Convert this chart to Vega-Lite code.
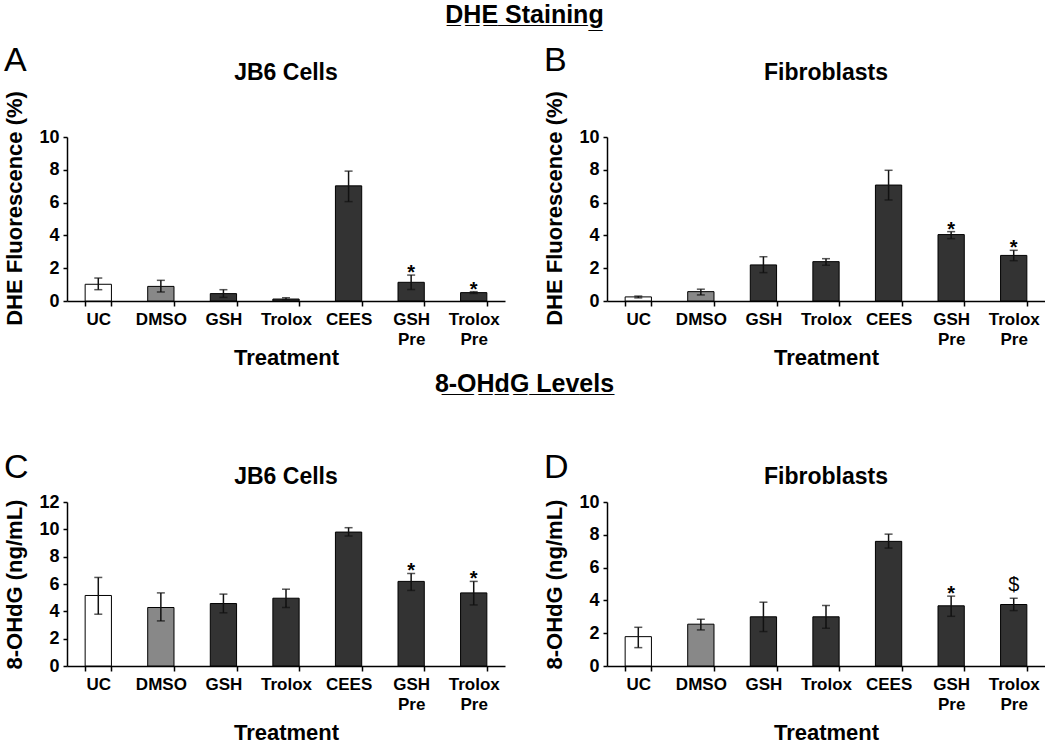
{
  "$schema": "https://vega.github.io/schema/vega-lite/v6.json",
  "background": "white",
  "padding": {"left": 3, "top": 2, "right": 0, "bottom": 0},
  "config": {
    "font": "Liberation Sans",
    "view": {"stroke": null},
    "text": {"color": "black"},
    "axis": {"domainColor": "black", "domainWidth": 1.5, "tickColor": "black", "tickWidth": 1.5, "tickSize": 5, "labelFont": "Liberation Sans", "titleFont": "Liberation Sans", "labelFontWeight": "bold", "labelColor": "black", "titleColor": "black", "titleFontWeight": "bold", "grid": false, "labelOverlap": false},
    "axisX": {"labelAngle": 0, "labelFontSize": 17, "titleFontSize": 22, "labelPadding": 5, "titlePadding": 0, "tickBand": "extent", "labelLineHeight": 20},
    "axisY": {"labelFontSize": 18, "titleFontSize": 22, "labelPadding": 4, "titlePadding": 12, "tickSize": 4, "tickCount": 12},
    "title": {"fontSize": 23, "fontWeight": "bold", "color": "black", "font": "Liberation Sans"},
    "concat": {"spacing": 38}
  },
  "datasets": {
    "a": [
      {"t": "UC", "m": 1.02, "lo": 0.69, "hi": 1.40, "sig": ""},
      {"t": "DMSO", "m": 0.89, "lo": 0.55, "hi": 1.26, "sig": ""},
      {"t": "GSH", "m": 0.45, "lo": 0.22, "hi": 0.69, "sig": ""},
      {"t": "Trolox", "m": 0.12, "lo": 0.07, "hi": 0.20, "sig": ""},
      {"t": "CEES", "m": 7.02, "lo": 6.06, "hi": 7.92, "sig": ""},
      {"t": "GSH Pre", "m": 1.14, "lo": 0.70, "hi": 1.58, "sig": "*"},
      {"t": "Trolox Pre", "m": 0.51, "lo": 0.46, "hi": 0.57, "sig": "*"}
    ],
    "b": [
      {"t": "UC", "m": 0.25, "lo": 0.19, "hi": 0.30, "sig": ""},
      {"t": "DMSO", "m": 0.57, "lo": 0.37, "hi": 0.72, "sig": ""},
      {"t": "GSH", "m": 2.2, "lo": 1.73, "hi": 2.7, "sig": ""},
      {"t": "Trolox", "m": 2.4, "lo": 2.18, "hi": 2.58, "sig": ""},
      {"t": "CEES", "m": 7.07, "lo": 6.16, "hi": 7.97, "sig": ""},
      {"t": "GSH Pre", "m": 4.05, "lo": 3.80, "hi": 4.23, "sig": "*"},
      {"t": "Trolox Pre", "m": 2.78, "lo": 2.46, "hi": 3.09, "sig": "*"}
    ],
    "c": [
      {"t": "UC", "m": 5.16, "lo": 3.79, "hi": 6.48, "sig": ""},
      {"t": "DMSO", "m": 4.28, "lo": 3.30, "hi": 5.35, "sig": ""},
      {"t": "GSH", "m": 4.57, "lo": 3.89, "hi": 5.26, "sig": ""},
      {"t": "Trolox", "m": 4.96, "lo": 4.28, "hi": 5.62, "sig": ""},
      {"t": "CEES", "m": 9.80, "lo": 9.51, "hi": 10.12, "sig": ""},
      {"t": "GSH Pre", "m": 6.19, "lo": 5.53, "hi": 6.77, "sig": "*"},
      {"t": "Trolox Pre", "m": 5.35, "lo": 4.47, "hi": 6.19, "sig": "*"}
    ],
    "d": [
      {"t": "UC", "m": 1.79, "lo": 1.12, "hi": 2.36, "sig": ""},
      {"t": "DMSO", "m": 2.55, "lo": 2.2, "hi": 2.85, "sig": ""},
      {"t": "GSH", "m": 3.0, "lo": 2.1, "hi": 3.89, "sig": ""},
      {"t": "Trolox", "m": 3.0, "lo": 2.3, "hi": 3.69, "sig": ""},
      {"t": "CEES", "m": 7.6, "lo": 7.19, "hi": 8.04, "sig": ""},
      {"t": "GSH Pre", "m": 3.67, "lo": 3.03, "hi": 4.26, "sig": "*"},
      {"t": "Trolox Pre", "m": 3.75, "lo": 3.38, "hi": 4.13, "sig": "$"}
    ]
  },
  "spacing": 4,
  "vconcat": [
    {
      "title": {"text": "D\u0332H\u0332E\u0332 \u0332S\u0332t\u0332a\u0332i\u0332n\u0332i\u0332n\u0332g\u0332", "fontSize": 25, "anchor": "middle", "offset": 16},
      "hconcat": [
        {
          "title": {"text": "A", "anchor": "start", "fontSize": 34, "fontWeight": "normal", "offset": -16},
          "vconcat": [
            {
              "width": 438, "height": 164,
              "title": {"text": "JB6 Cells", "offset": 6},
              "data": {"name": "a"},
              "encoding": {"x": {"field": "t", "type": "nominal", "sort": null, "scale": {"paddingInner": 0.58, "paddingOuter": 0.29}, "axis": {"title": "Treatment", "labelExpr": "split(datum.label, ' ')"}}},
              "layer": [
                {"mark": {"type": "bar", "stroke": "black", "strokeWidth": 1},
                 "encoding": {
                   "y": {"field": "m", "type": "quantitative", "scale": {"domain": [0, 10]}, "axis": {"title": "DHE Fluorescence (%)", "values": [0, 2, 4, 6, 8, 10], "tickCount": 12, "titleY": 71}},
                   "fill": {"field": "t", "type": "nominal", "scale": {"domain": ["UC", "DMSO", "GSH", "Trolox", "CEES", "GSH Pre", "Trolox Pre"], "range": ["#ffffff", "#888888", "#333333", "#333333", "#333333", "#333333", "#333333"]}, "legend": null}}},
                {"mark": {"type": "rule", "color": "#111111", "strokeWidth": 1.5}, "encoding": {"y": {"field": "lo", "type": "quantitative"}, "y2": {"field": "hi"}}},
                {"mark": {"type": "tick", "color": "#111111", "size": 8, "thickness": 1.5}, "encoding": {"y": {"field": "hi", "type": "quantitative"}}},
                {"mark": {"type": "tick", "color": "#111111", "size": 8, "thickness": 1.5}, "encoding": {"y": {"field": "lo", "type": "quantitative"}}},
                {"transform": [{"filter": "datum.sig == '*'"}], "mark": {"type": "text", "color": "black", "fontSize": 20, "fontWeight": "bold", "baseline": "alphabetic", "dy": 4}, "encoding": {"y": {"field": "hi", "type": "quantitative"}, "text": {"field": "sig"}}}
              ]
            }
          ]
        },
        {
          "title": {"text": "B", "anchor": "start", "fontSize": 34, "fontWeight": "normal", "offset": -16},
          "vconcat": [
            {
              "width": 438, "height": 164,
              "title": {"text": "Fibroblasts", "offset": 6},
              "data": {"name": "b"},
              "encoding": {"x": {"field": "t", "type": "nominal", "sort": null, "scale": {"paddingInner": 0.58, "paddingOuter": 0.29}, "axis": {"title": "Treatment", "labelExpr": "split(datum.label, ' ')"}}},
              "layer": [
                {"mark": {"type": "bar", "stroke": "black", "strokeWidth": 1},
                 "encoding": {
                   "y": {"field": "m", "type": "quantitative", "scale": {"domain": [0, 10]}, "axis": {"title": "DHE Fluorescence (%)", "values": [0, 2, 4, 6, 8, 10], "tickCount": 12, "titleY": 71}},
                   "fill": {"field": "t", "type": "nominal", "scale": {"domain": ["UC", "DMSO", "GSH", "Trolox", "CEES", "GSH Pre", "Trolox Pre"], "range": ["#ffffff", "#888888", "#333333", "#333333", "#333333", "#333333", "#333333"]}, "legend": null}}},
                {"mark": {"type": "rule", "color": "#111111", "strokeWidth": 1.5}, "encoding": {"y": {"field": "lo", "type": "quantitative"}, "y2": {"field": "hi"}}},
                {"mark": {"type": "tick", "color": "#111111", "size": 8, "thickness": 1.5}, "encoding": {"y": {"field": "hi", "type": "quantitative"}}},
                {"mark": {"type": "tick", "color": "#111111", "size": 8, "thickness": 1.5}, "encoding": {"y": {"field": "lo", "type": "quantitative"}}},
                {"transform": [{"filter": "datum.sig == '*'"}], "mark": {"type": "text", "color": "black", "fontSize": 20, "fontWeight": "bold", "baseline": "alphabetic", "dy": 4}, "encoding": {"y": {"field": "hi", "type": "quantitative"}, "text": {"field": "sig"}}}
              ]
            }
          ]
        }
      ]
    },
    {
      "title": {"text": "8\u0332-\u0332O\u0332H\u0332d\u0332G\u0332 \u0332L\u0332e\u0332v\u0332e\u0332l\u0332s\u0332", "fontSize": 25, "anchor": "middle", "offset": 54},
      "hconcat": [
        {
          "title": {"text": "C", "anchor": "start", "fontSize": 34, "fontWeight": "normal", "offset": -19},
          "vconcat": [
            {
              "width": 438, "height": 164,
              "title": {"text": "JB6 Cells", "offset": 4},
              "data": {"name": "c"},
              "encoding": {"x": {"field": "t", "type": "nominal", "sort": null, "scale": {"paddingInner": 0.58, "paddingOuter": 0.29}, "axis": {"title": "Treatment", "titlePadding": 10, "labelExpr": "split(datum.label, ' ')"}}},
              "layer": [
                {"mark": {"type": "bar", "stroke": "black", "strokeWidth": 1},
                 "encoding": {
                   "y": {"field": "m", "type": "quantitative", "scale": {"domain": [0, 12]}, "axis": {"title": "8-OHdG (ng/mL)", "values": [0, 2, 4, 6, 8, 10, 12], "tickCount": 12}},
                   "fill": {"field": "t", "type": "nominal", "scale": {"domain": ["UC", "DMSO", "GSH", "Trolox", "CEES", "GSH Pre", "Trolox Pre"], "range": ["#ffffff", "#888888", "#333333", "#333333", "#333333", "#333333", "#333333"]}, "legend": null}}},
                {"mark": {"type": "rule", "color": "#111111", "strokeWidth": 1.5}, "encoding": {"y": {"field": "lo", "type": "quantitative"}, "y2": {"field": "hi"}}},
                {"mark": {"type": "tick", "color": "#111111", "size": 8, "thickness": 1.5}, "encoding": {"y": {"field": "hi", "type": "quantitative"}}},
                {"mark": {"type": "tick", "color": "#111111", "size": 8, "thickness": 1.5}, "encoding": {"y": {"field": "lo", "type": "quantitative"}}},
                {"transform": [{"filter": "datum.sig == '*'"}], "mark": {"type": "text", "color": "black", "fontSize": 20, "fontWeight": "bold", "baseline": "alphabetic", "dy": 4}, "encoding": {"y": {"field": "hi", "type": "quantitative"}, "text": {"field": "sig"}}}
              ]
            }
          ]
        },
        {
          "title": {"text": "D", "anchor": "start", "fontSize": 34, "fontWeight": "normal", "offset": -19},
          "vconcat": [
            {
              "width": 438, "height": 164,
              "title": {"text": "Fibroblasts", "offset": 4},
              "data": {"name": "d"},
              "encoding": {"x": {"field": "t", "type": "nominal", "sort": null, "scale": {"paddingInner": 0.58, "paddingOuter": 0.29}, "axis": {"title": "Treatment", "titlePadding": 10, "labelExpr": "split(datum.label, ' ')"}}},
              "layer": [
                {"mark": {"type": "bar", "stroke": "black", "strokeWidth": 1},
                 "encoding": {
                   "y": {"field": "m", "type": "quantitative", "scale": {"domain": [0, 10]}, "axis": {"title": "8-OHdG (ng/mL)", "values": [0, 2, 4, 6, 8, 10], "tickCount": 12}},
                   "fill": {"field": "t", "type": "nominal", "scale": {"domain": ["UC", "DMSO", "GSH", "Trolox", "CEES", "GSH Pre", "Trolox Pre"], "range": ["#ffffff", "#888888", "#333333", "#333333", "#333333", "#333333", "#333333"]}, "legend": null}}},
                {"mark": {"type": "rule", "color": "#111111", "strokeWidth": 1.5}, "encoding": {"y": {"field": "lo", "type": "quantitative"}, "y2": {"field": "hi"}}},
                {"mark": {"type": "tick", "color": "#111111", "size": 8, "thickness": 1.5}, "encoding": {"y": {"field": "hi", "type": "quantitative"}}},
                {"mark": {"type": "tick", "color": "#111111", "size": 8, "thickness": 1.5}, "encoding": {"y": {"field": "lo", "type": "quantitative"}}},
                {"transform": [{"filter": "datum.sig == '*'"}], "mark": {"type": "text", "color": "black", "fontSize": 20, "fontWeight": "bold", "baseline": "alphabetic", "dy": 4}, "encoding": {"y": {"field": "hi", "type": "quantitative"}, "text": {"field": "sig"}}},
                {"transform": [{"filter": "datum.sig == '$'"}], "mark": {"type": "text", "color": "black", "fontSize": 20, "fontWeight": "normal", "baseline": "alphabetic", "dy": -7}, "encoding": {"y": {"field": "hi", "type": "quantitative"}, "text": {"field": "sig"}}}
              ]
            }
          ]
        }
      ]
    }
  ]
}
